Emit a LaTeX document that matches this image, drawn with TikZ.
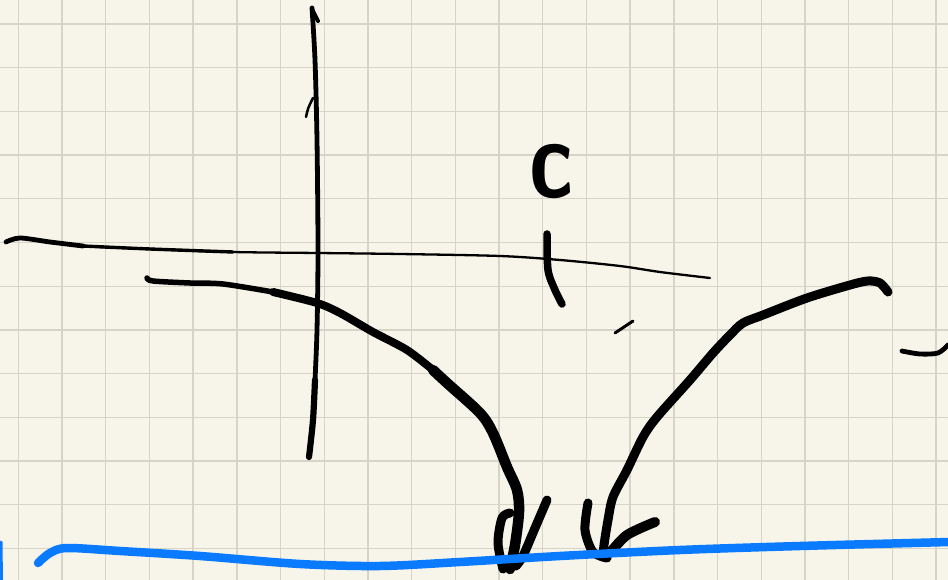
\documentclass[tikz,border=0pt]{standalone}
\definecolor{paper}{RGB}{247,245,234}
\definecolor{gridc}{RGB}{214,212,199}
\definecolor{pen}{RGB}{10,122,255}
\begin{document}
\begin{tikzpicture}[x=1pt,y=-1pt,
  ink/.style={draw=black,line cap=round,line join=round},
  blueink/.style={draw=pen,line cap=round,line join=round},
  gridline/.style={draw=gridc,line width=1.4}]
\fill[paper] (0,0) rectangle (948,580);
\useasboundingbox (0,0) rectangle (948,580);
% grid
\foreach \i in {0,...,21} \draw[gridline] ({18.3+43.7*\i},0) -- ({18.3+43.7*\i},580);
\foreach \j in {0,...,12} \draw[gridline] (0,{24+43.7*\j}) -- (948,{24+43.7*\j});
% horizontal axis
\draw[ink,line width=2.3] plot[smooth] coordinates {(6,242) (20,238) (50,242) (83,246) (150,249) (233,252) (318,253) (400,254) (500,256) (560,260) (620,266) (660,272) (710,278)};
\draw[ink,line width=4.8] plot[smooth] coordinates {(6,242) (20,238) (50,242) (83,246)};
\draw[ink,line width=3.4] plot[smooth] coordinates {(83,246) (150,249) (233,252)};
% vertical axis
\draw[ink,line width=4.8] plot[smooth] coordinates {(312,8) (315,60) (317,140) (318,250) (317,330) (315,380)};
\draw[ink,line width=6.2] plot[smooth] coordinates {(315,380) (313,420) (309,457)};
\draw[ink,line width=4] (312,9) -- (318,21);
\draw[ink,line width=2.5] (306,117) .. controls (308,108) .. (313,98);
% left curve
\draw[ink,line width=5.5] plot[smooth] coordinates {(147,278) (153,281) (190,283) (223,284) (273,292)};
\draw[ink,line width=8] plot[smooth] coordinates {(273,292) (317,303) (340,313) (373,332) (407,350) (433,370)};
\draw[ink,line width=10.5] plot[smooth] coordinates {(433,370) (447,383) (480,413) (493,433) (507,467) (517,490) (519,512) (515,545) (510,569)};
\draw[ink,line width=9] plot[smooth] coordinates {(510,513) (502,518) (498,543) (503,569)};
\draw[ink,line width=9] plot[smooth] coordinates {(547,500) (535,528) (523,556) (516,566)};
% right curve
\draw[ink,line width=9] plot[smooth] coordinates {(888,292) (880,283) (868,281) (850,285) (807,298) (763,315) (743,323) (730,335) (713,353) (690,380) (657,417) (643,437) (627,470) (613,497) (608,520) (604,545) (603,557)};
\draw[ink,line width=9] plot[smooth] coordinates {(588,503) (585,530) (593,552) (607,558)};
\draw[ink,line width=10] plot[smooth] coordinates {(655,522) (627,535) (610,553)};
% small strokes
\draw[ink,line width=3] (615,333) -- (633,321);
\draw[ink,line width=4.8] plot[smooth] coordinates {(902,351) (920,354) (938,353) (948,345)};
% label c and its tick
\node[inner sep=0pt,font=\fontsize{112}{112}\selectfont\sffamily\bfseries] (c) at (551,172) {\scalebox{0.8}[1]{c}};
\draw[ink,line width=7.5] plot[smooth] coordinates {(547,234) (548,270) (555,290) (562,304)};
% blue line
\draw[blueink,line width=8.5] plot[smooth] coordinates {(38,563) (50,553) (67,548) (120,551) (200,556) (300,564) (380,566) (460,562) (560,556) (680,550) (800,546) (950,542)};
\draw[blueink,line width=3] (1,542) -- (1.5,582);
\end{tikzpicture}
\end{document}
